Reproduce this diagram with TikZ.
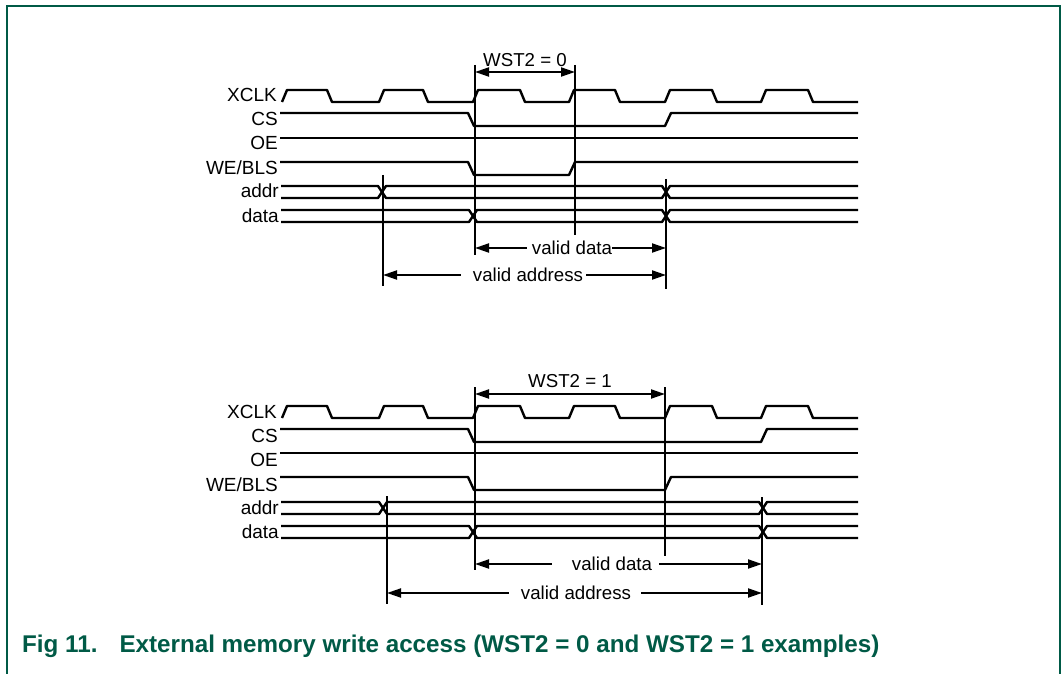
\documentclass[tikz,border=0pt]{standalone}
\usepackage{fontspec}
\setmainfont{Liberation Sans}
\usetikzlibrary{arrows.meta}
\definecolor{nxpgreen}{HTML}{005A46}
\tikzset{
  wave/.style={line width=2.4bp, line join=round},
  marker/.style={line width=2bp},
  dim/.style={line width=2bp},
  tipl/.style={{Triangle[length=14bp,width=9bp]}-},
  tipr/.style={-{Triangle[length=14bp,width=9bp]}},
  tipb/.style={{Triangle[length=14bp,width=9bp]}-{Triangle[length=14bp,width=9bp]}},
  sig/.style={anchor=base east, inner sep=0pt, font=\fontsize{19bp}{22bp}\selectfont},
  dimtext/.style={inner sep=0pt, font=\fontsize{18.7bp}{22bp}\selectfont},
  caption/.style={anchor=base west, inner sep=0pt, text=nxpgreen, font=\bfseries\fontsize{24.2bp}{28bp}\selectfont}
}
\newcommand\clockwave[1]{%
  \begin{scope}[shift={(0,#1)}]
  \draw[wave] (282,102) -- (287,90) -- (327,90) -- (332,102) -- (379,102) -- (384,90) -- (423,90) -- (428,102)
    -- (473,102) -- (478,90) -- (520,90) -- (525,102) -- (569,102) -- (574,90) -- (615,90) -- (620,102)
    -- (665,102) -- (670,90) -- (712,90) -- (717,102) -- (761,102) -- (766,90) -- (808,90) -- (813,102) -- (858,102);
  \end{scope}}
% bus with two crossings: #1 y-offset, #2 upper y, #3 lower y, #4 first crossing x, #5 second crossing x
\newcommand\buswave[5]{%
  \begin{scope}[shift={(0,#1)}]
  \draw[wave] (281,#2) -- ({#4-4},#2) -- ({#4+4},#3) -- ({#5-4},#3) -- ({#5+4},#2) -- (858,#2);
  \draw[wave] (281,#3) -- ({#4-4},#3) -- ({#4+4},#2) -- ({#5-4},#2) -- ({#5+4},#3) -- (858,#3);
  \end{scope}}
\newcommand\labelset[2]{%
  \begin{scope}[shift={(0,#1)}]
  \node[sig] (#2xclk) at (277,102) {XCLK};
  \node[sig] (#2cs) at (278,126) {CS};
  \node[sig] (#2oe) at (278,150) {OE};
  \node[sig] (#2we) at (278,175) {WE/BLS};
  \node[sig] (#2addr) at (279,198) {addr};
  \node[sig] (#2data) at (279,222) {data};
  \end{scope}}
\begin{document}
\begin{tikzpicture}[x=1bp,y=-1bp]
\useasboundingbox (0,0) rectangle (1061,674);
% frame
\draw[nxpgreen, line width=2bp] (6.5,674) -- (6.5,6.5) -- (1059.5,6.5) -- (1059.5,674);

% ===================== top diagram (WST2 = 0) =====================
\labelset{0}{a}
\clockwave{0}
\draw[wave] (280,113) -- (468,113) -- (474,126) -- (665,126) -- (671,113) -- (858,113);
\draw[wave] (280,138) -- (858,138);
\draw[wave] (280,162) -- (468,162) -- (474,175) -- (569,175) -- (575,162) -- (858,162);
\buswave{0}{186}{198}{382}{666}
\buswave{0}{210}{222}{473}{666}
% markers
\coordinate (aT1) at (475,65);  \coordinate (aB1) at (475,255);
\coordinate (aT2) at (575,65);  \coordinate (aB2) at (575,235);
\coordinate (aT3) at (383,175); \coordinate (aB3) at (383,286);
\coordinate (aT4) at (666,179); \coordinate (aB4) at (666,289);
\draw[marker] (aT1) -- (aB1);
\draw[marker] (aT2) -- (aB2);
\draw[marker] (aT3) -- (aB3);
\draw[marker] (aT4) -- (aB4);
% dimensions
\coordinate (aw1) at (475,72); \coordinate (aw2) at (575,72);
\draw[dim, tipb] (aw1) -- (aw2);
\node[dimtext] (awst) at (525,60) {WST2 = 0};
\coordinate (avd1) at (475,248); \coordinate (avd2) at (666,248);
\node[dimtext] (avd) at (572,248) {valid data};
\draw[dim, tipl] (avd1) -- ([xshift=-5bp]avd.west);
\draw[dim, tipr] (avd.east) -- (avd2);
\coordinate (ava1) at (383,275); \coordinate (ava2) at (666,275);
\node[dimtext] (ava) at (528,275) {valid address};
\draw[dim, tipl] (ava1) -- ([xshift=-12bp]ava.west);
\draw[dim, tipr] ([xshift=3bp]ava.east) -- (ava2);

% ===================== bottom diagram (WST2 = 1) =====================
\labelset{316}{b}
\clockwave{316}
\draw[wave] (280,429) -- (468,429) -- (474,442) -- (761,442) -- (767,429) -- (858,429);
\draw[wave] (280,453) -- (858,453);
\draw[wave] (280,477) -- (468,477) -- (474,490) -- (665,490) -- (671,477) -- (858,477);
\buswave{0}{502}{514}{383}{763}
\buswave{0}{526}{538}{473}{763}
% markers
\coordinate (bT1) at (475,387); \coordinate (bB1) at (475,570);
\coordinate (bT2) at (665,387); \coordinate (bB2) at (665,556);
\coordinate (bT3) at (387,496); \coordinate (bB3) at (387,604);
\coordinate (bT4) at (762,497); \coordinate (bB4) at (762,605);
\draw[marker] (bT1) -- (bB1);
\draw[marker] (bT2) -- (bB2);
\draw[marker] (bT3) -- (bB3);
\draw[marker] (bT4) -- (bB4);
% dimensions
\coordinate (bw1) at (475,394); \coordinate (bw2) at (665,394);
\draw[dim, tipb] (bw1) -- (bw2);
\node[dimtext] (bwst) at (570,381) {WST2 = 1};
\coordinate (bvd1) at (475,564); \coordinate (bvd2) at (762,564);
\node[dimtext] (bvd) at (612,564) {valid data};
\draw[dim, tipl] (bvd1) -- ([xshift=-20bp]bvd.west);
\draw[dim, tipr] ([xshift=7bp]bvd.east) -- (bvd2);
\coordinate (bva1) at (387,593); \coordinate (bva2) at (762,593);
\node[dimtext] (bva) at (576,593) {valid address};
\draw[dim, tipl] (bva1) -- ([xshift=-12bp]bva.west);
\draw[dim, tipr] ([xshift=10bp]bva.east) -- (bva2);

% caption
\node[caption] (cap) at (22,652) {Fig 11.\hspace{22bp}External memory write access (WST2 = 0 and WST2 = 1 examples)};
\end{tikzpicture}
\end{document}
